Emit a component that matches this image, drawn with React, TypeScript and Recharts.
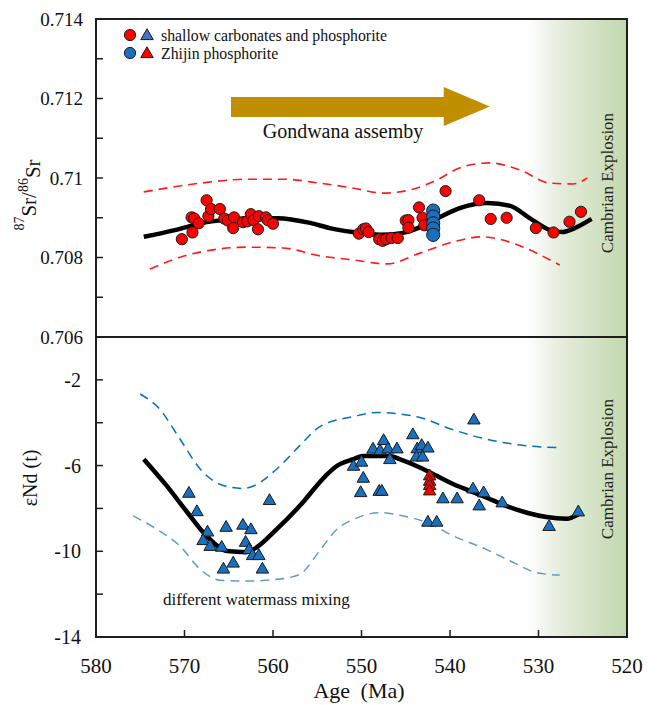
import React from 'react'
import { ComposedChart, XAxis, YAxis, Line, Scatter, ReferenceArea, Label } from 'recharts'

interface Pt {
  age: number
  v: number
}

const FONT = '"Liberation Serif", "Times New Roman", serif'
const AXIS = '#1e1e1e'

const AGE_TICKS = [580, 570, 560, 550, 540, 530, 520]
const SR_TICKS = [0.706, 0.707, 0.708, 0.709, 0.71, 0.711, 0.712, 0.713, 0.714]
const SR_LABELS = [0.706, 0.708, 0.71, 0.712, 0.714]
const ND_TICKS = [-14, -12, -10, -8, -6, -4, -2]
const ND_LABELS = [-14, -10, -6, -2]

const pts = (rows: number[][]): Pt[] => rows.map(([age, v]) => ({ age, v }))

// 87Sr/86Sr, shallow carbonates and phosphorite (red circles)
const srShallow = pts([
  [570.3, 0.70846], [569.1, 0.70863], [569.2, 0.70901], [568.9, 0.70898], [568.4, 0.70886],
  [567.5, 0.70944], [567.3, 0.70904], [567.0, 0.70922], [566.0, 0.70922], [565.5, 0.70898],
  [565.1, 0.70893], [564.4, 0.70901], [564.5, 0.70874], [563.4, 0.70889], [562.9, 0.70891],
  [562.5, 0.70909], [562.2, 0.70894], [561.6, 0.70904], [561.7, 0.70871], [560.8, 0.70901],
  [560.6, 0.70894], [560.0, 0.70885],
  [550.3, 0.7086], [549.8, 0.70871], [549.5, 0.70873], [549.2, 0.70864], [548.0, 0.70846],
  [547.6, 0.70842], [547.2, 0.70846], [546.6, 0.70849], [545.9, 0.70849], [545.0, 0.70893],
  [544.7, 0.70894], [544.7, 0.70875], [543.5, 0.70926], [543.1, 0.709], [542.9, 0.70881],
  [541.9, 0.70913], [540.5, 0.70967], [536.7, 0.70944], [535.4, 0.70897], [533.6, 0.709],
  [530.3, 0.70874], [528.3, 0.70863], [526.5, 0.7089], [525.2, 0.70915],
])

// 87Sr/86Sr, Zhijin phosphorite (blue circles)
const srZhijin = pts([
  [541.9, 0.70918], [541.9, 0.70903], [541.9, 0.70886], [541.9, 0.70873], [541.9, 0.70857],
])

const srTrend = pts([
  [574.6, 0.70852], [571.1, 0.70869], [567.5, 0.70889], [563.7, 0.70897], [559.5, 0.70899],
  [555.8, 0.70887], [553.6, 0.70874], [551.0, 0.70864], [547.9, 0.70857], [545.3, 0.70862],
  [542.8, 0.70882], [541.1, 0.70902], [538.9, 0.70924], [535.8, 0.70937], [533.2, 0.7093],
  [531.0, 0.70899], [528.7, 0.70869], [527.3, 0.70864], [525.9, 0.70874], [524.0, 0.70897],
])

const srUpper = pts([
  [574.6, 0.70965], [568.2, 0.70987], [562.9, 0.70997], [558.9, 0.70997], [554.7, 0.70987],
  [551.0, 0.70975], [547.6, 0.70962], [544.5, 0.7097], [541.5, 0.70995], [538.6, 0.71028],
  [535.5, 0.71038], [532.1, 0.7102], [528.7, 0.70987], [526.1, 0.70985], [524.5, 0.71],
])

const srLower = pts([
  [573.9, 0.70771], [569.7, 0.70806], [562.9, 0.70826], [558.9, 0.70824], [554.7, 0.70804],
  [551.0, 0.70794], [547.1, 0.70784], [543.4, 0.70811], [539.7, 0.70839], [536.3, 0.70852],
  [532.9, 0.70836], [528.7, 0.70794], [527.6, 0.70781],
])

// eNd(t), shallow carbonates and phosphorite (blue triangles)
const ndShallow = pts([
  [569.5, -7.31], [568.6, -8.17], [567.4, -9.12], [567.9, -9.52], [567.1, -9.79],
  [565.8, -9.83], [565.3, -8.9], [563.4, -8.8], [562.5, -9.01], [563.1, -9.6],
  [562.7, -9.94], [562.3, -10.22], [561.6, -10.22], [564.5, -10.57], [565.6, -10.85],
  [561.2, -10.85], [560.4, -7.65],
  [550.9, -6.05], [550.0, -5.86], [549.8, -6.61], [550.1, -7.28], [548.7, -5.25],
  [547.9, -5.32], [547.5, -4.85], [547.0, -5.24], [546.0, -5.24], [546.8, -5.74],
  [548.0, -7.22], [547.7, -7.22], [544.2, -4.58], [543.7, -5.24], [543.2, -5.08],
  [542.5, -5.2], [543.8, -5.62], [543.1, -5.62], [540.8, -7.57], [539.2, -7.57],
  [542.5, -8.66], [541.5, -8.66], [537.3, -3.89], [537.4, -7.11], [536.2, -7.29],
  [536.7, -7.9], [534.1, -7.76], [528.8, -8.86], [525.5, -8.18],
])

// eNd(t), Zhijin phosphorite (red triangles)
const ndZhijin = pts([
  [542.3, -6.5], [542.3, -6.75], [542.3, -6.95], [542.3, -7.2],
])

const ndTrend = pts([
  [574.6, -5.7], [572.0, -6.95], [569.8, -8.12], [567.5, -9.29], [565.2, -9.99],
  [563.0, -10.04], [562.2, -9.91], [559.6, -8.98], [557.0, -7.89], [554.1, -6.5],
  [552.8, -6.02], [550.9, -5.7], [549.8, -5.55], [546.8, -5.55], [545.7, -5.7],
  [543.4, -6.09], [541.5, -6.48], [539.6, -6.87], [537.7, -7.19], [535.9, -7.49],
  [533.6, -7.89], [531.3, -8.2], [529.1, -8.4], [526.8, -8.48], [525.5, -8.27],
])

const ndUpper = pts([
  [575.0, -2.66], [572.8, -3.37], [570.5, -4.77], [568.2, -6.17], [566.0, -6.87],
  [563.4, -7.07], [562.2, -6.95], [559.6, -6.17], [557.0, -5.08], [554.7, -4.18],
  [550.9, -3.71], [548.3, -3.52], [545.6, -3.6], [543.0, -3.8], [540.4, -4.22],
  [537.4, -4.61], [534.0, -4.92], [531.3, -5.08], [527.9, -5.16],
])

const ndLower = pts([
  [575.8, -8.35], [573.1, -8.98], [570.5, -9.76], [568.2, -10.85], [566.0, -11.35],
  [563.0, -11.39], [559.6, -11.31], [557.0, -11.08], [554.7, -9.96], [552.8, -8.98],
  [550.9, -8.51], [547.9, -8.2], [545.3, -8.35], [542.6, -8.66], [539.6, -9.29],
  [535.9, -9.91], [532.8, -10.53], [530.2, -11.0], [527.6, -11.11],
])

const RED = '#ff0000'
const BLUE = '#1a6fbe'

const circleShape = (fill: string, r: number) => (p: any) => (
  <circle cx={p.cx} cy={p.cy} r={r} fill={fill} stroke="#1a1a1a" strokeWidth={1} />
)

const triangleShape = (fill: string) => (p: any) => {
  const s = 12.5
  const h = s * 0.866
  const { cx, cy } = p
  return (
    <polygon
      points={`${cx},${cy - (2 * h) / 3} ${cx - s / 2},${cy + h / 3} ${cx + s / 2},${cy + h / 3}`}
      fill={fill}
      stroke="#1a1a1a"
      strokeWidth={1}
    />
  )
}

const isIn = (list: number[], v: number) => list.some((l) => Math.abs(l - v) < 1e-9)

const SrTick = (props: any) => {
  const { x, y, payload } = props
  const v = payload.value
  return (
    <g>
      <line x1={x} x2={x + 7} y1={y} y2={y} stroke={AXIS} strokeWidth={1.5} />
      {isIn(SR_LABELS, v) && (
        <text x={x - 13} y={y} dy="0.35em" textAnchor="end" fontSize={19} fontFamily={FONT} fill="#111">
          {String(Number(v.toFixed(3)))}
        </text>
      )}
    </g>
  )
}

const NdTick = (props: any) => {
  const { x, y, payload } = props
  const v = payload.value
  return (
    <g>
      <line x1={x} x2={x + 7} y1={y} y2={y} stroke={AXIS} strokeWidth={1.5} />
      {isIn(ND_LABELS, v) && (
        <text x={x - 15} y={y} dy="0.35em" textAnchor="end" fontSize={20} fontFamily={FONT} fill="#111">
          {v}
        </text>
      )}
    </g>
  )
}

const AgeTick = (props: any) => {
  const { x, y, payload } = props
  return (
    <g>
      <line x1={x} x2={x} y1={y} y2={y - 7} stroke={AXIS} strokeWidth={1.5} />
      <text x={x} y={y + 29} dy="0.35em" textAnchor="middle" fontSize={21} fontFamily={FONT} fill="#111">
        {payload.value}
      </text>
    </g>
  )
}

// green band for the Cambrian explosion, with its vertical caption
const cambrianShape = (id: string, dy: number) => (p: any) => {
  const { x, y, width, height } = p
  const cx = x + width - 20
  const cy = y + height / 2 + dy
  return (
    <g>
      <defs>
        <linearGradient id={id} x1="0" y1="0" x2="1" y2="0">
          <stop offset="0%" stopColor="#ffffff" />
          <stop offset="35%" stopColor="#e4ecdb" />
          <stop offset="100%" stopColor="#c2d8ae" />
        </linearGradient>
      </defs>
      <rect x={x} y={y} width={width} height={height} fill={`url(#${id})`} />
      <text
        x={cx}
        y={cy}
        dy="0.35em"
        textAnchor="middle"
        fontSize={17}
        fontFamily={FONT}
        fill="#222"
        transform={`rotate(-90, ${cx}, ${cy})`}
      >
        Cambrian Explosion
      </text>
    </g>
  )
}

const arrowShape = (p: any) => {
  const { x, y, width, height } = p
  const hs = x + width * 0.822
  const bt = y + height * 0.256
  const bb = y + height * 0.77
  return (
    <g>
      <polygon
        points={`${x},${bt} ${hs},${bt} ${hs},${y} ${x + width},${y + height / 2} ${hs},${y + height} ${hs},${bb} ${x},${bb}`}
        fill="#bf8f00"
      />
      <text x={x + 112} y={y + height + 12} textAnchor="middle" fontSize={20} fontFamily={FONT} fill="#111">
        Gondwana assemby
      </text>
    </g>
  )
}

const tri = (cx: number, cy: number, fill: string) => {
  const s = 12.5
  const h = s * 0.866
  return (
    <polygon
      points={`${cx},${cy - (2 * h) / 3} ${cx - s / 2},${cy + h / 3} ${cx + s / 2},${cy + h / 3}`}
      fill={fill}
      stroke="#1a1a1a"
      strokeWidth={1}
    />
  )
}

// frame of the upper panel plus the legend in its top-left corner
const topFrame = (p: any) => {
  const { x, y, width, height } = p
  const lx = x + 34
  const ly1 = y + 16
  const ly2 = y + 34
  return (
    <g>
      <rect x={x} y={y} width={width} height={height} fill="none" stroke={AXIS} strokeWidth={2} />
      <circle cx={lx} cy={ly1} r={5.6} fill={RED} stroke="#1a1a1a" />
      {tri(lx + 17, ly1 + 1, '#4472c4')}
      <text x={lx + 31} y={ly1} dy="0.35em" fontSize={15.8} fontFamily={FONT} fill="#111">
        shallow carbonates and phosphorite
      </text>
      <circle cx={lx} cy={ly2} r={5.6} fill={BLUE} stroke="#1a1a1a" />
      {tri(lx + 17, ly2 + 1, RED)}
      <text x={lx + 31} y={ly2} dy="0.35em" fontSize={15.8} fontFamily={FONT} fill="#111">
        Zhijin phosphorite
      </text>
    </g>
  )
}

const bottomFrame = (p: any) => {
  const { x, y, width, height } = p
  return (
    <g>
      <rect x={x} y={y} width={width} height={height} fill="none" stroke={AXIS} strokeWidth={2} />
      <text x={x + 67} y={y + 268} fontSize={17} fontFamily={FONT} fill="#111">
        different watermass mixing
      </text>
    </g>
  )
}

const srLabel = () => (
  <text
    x={30}
    y={195}
    textAnchor="middle"
    dy="0.35em"
    fontSize={21}
    fontFamily={FONT}
    fill="#111"
    transform="rotate(-90, 30, 195)"
  >
    <tspan fontSize={14} dy="-0.4em">87</tspan>
    <tspan dy="0.55em">Sr/</tspan>
    <tspan fontSize={14} dy="-0.55em">86</tspan>
    <tspan dy="0.55em">Sr</tspan>
  </text>
)

const ndLabel = () => (
  <text
    x={30}
    y={148}
    textAnchor="middle"
    dy="0.35em"
    fontSize={20}
    fontFamily={FONT}
    fill="#111"
    transform="rotate(-90, 30, 148)"
  >
    εNd (t)
  </text>
)

const ageLabel = () => (
  <text x={359} y={360} textAnchor="middle" dy="0.35em" fontSize={22} fontFamily={FONT} fill="#111">
    <tspan>Age</tspan>
    <tspan dx={5}> (Ma)</tspan>
  </text>
)

export default function App() {
  return (
    <div style={{ position: 'absolute', left: 0, top: 0, width: 657, height: 705, background: '#fff' }}>
      <div style={{ position: 'absolute', left: 0, top: 0 }}>
        <ComposedChart width={657} height={350} margin={{ top: 19, right: 30, bottom: 13, left: 0 }}>
          <XAxis
            dataKey="age"
            type="number"
            domain={[520, 580]}
            reversed
            allowDataOverflow
            hide
          />
          <YAxis
            dataKey="v"
            type="number"
            domain={[0.706, 0.714]}
            ticks={SR_TICKS}
            allowDataOverflow
            width={96}
            tick={<SrTick />}
            tickLine={false}
            tickSize={0}
            tickMargin={0}
            axisLine={{ stroke: AXIS, strokeWidth: 2 }}
            interval={0}
          >
            <Label content={srLabel} />
          </YAxis>
          <ReferenceArea x1={531.3} x2={520} y1={0.706} y2={0.714} shape={cambrianShape('gradTop', 5)} />
          <ReferenceArea x1={564.75} x2={535.5} y1={0.71131} y2={0.71229} shape={arrowShape} />
          <ReferenceArea x1={580} x2={520} y1={0.706} y2={0.714} shape={topFrame} />
          <Line data={srUpper} dataKey="v" type="monotone" stroke="#ff1a1a" strokeWidth={1.6} strokeDasharray="9 6" dot={false} isAnimationActive={false} />
          <Line data={srLower} dataKey="v" type="monotone" stroke="#ff1a1a" strokeWidth={1.6} strokeDasharray="9 6" dot={false} isAnimationActive={false} />
          <Line data={srTrend} dataKey="v" type="monotone" stroke="#000" strokeWidth={4.5} dot={false} isAnimationActive={false} />
          <Scatter data={srShallow} dataKey="v" shape={circleShape(RED, 5.6)} isAnimationActive={false} />
          <Scatter data={srZhijin} dataKey="v" shape={circleShape(BLUE, 6.6)} isAnimationActive={false} />
        </ComposedChart>
      </div>
      <div style={{ position: 'absolute', left: 0, top: 330 }}>
        <ComposedChart width={657} height={375} margin={{ top: 7, right: 30, bottom: 0, left: 0 }}>
          <XAxis
            dataKey="age"
            type="number"
            domain={[520, 580]}
            reversed
            allowDataOverflow
            ticks={AGE_TICKS}
            interval={0}
            height={68}
            tick={<AgeTick />}
            tickLine={false}
            tickSize={0}
            tickMargin={0}
            axisLine={{ stroke: AXIS, strokeWidth: 2 }}
          >
            <Label content={ageLabel} />
          </XAxis>
          <YAxis
            dataKey="v"
            type="number"
            domain={[-14, 0]}
            ticks={ND_TICKS}
            allowDataOverflow
            width={96}
            tick={<NdTick />}
            tickLine={false}
            tickSize={0}
            tickMargin={0}
            interval={0}
            axisLine={{ stroke: AXIS, strokeWidth: 2 }}
          >
            <Label content={ndLabel} />
          </YAxis>
          <ReferenceArea x1={531.3} x2={520} y1={-14} y2={0} shape={cambrianShape('gradBottom', -18)} />
          <ReferenceArea x1={580} x2={520} y1={-14} y2={0} shape={bottomFrame} />
          <Line data={ndUpper} dataKey="v" type="monotone" stroke="#0070c0" strokeWidth={1.5} strokeDasharray="9 6" dot={false} isAnimationActive={false} />
          <Line data={ndLower} dataKey="v" type="monotone" stroke="#5b9bd5" strokeWidth={1.5} strokeDasharray="9 6" dot={false} isAnimationActive={false} />
          <Line data={ndTrend} dataKey="v" type="monotone" stroke="#000" strokeWidth={4.5} dot={false} isAnimationActive={false} />
          <Scatter data={ndShallow} dataKey="v" shape={triangleShape(BLUE)} isAnimationActive={false} />
          <Scatter data={ndZhijin} dataKey="v" shape={triangleShape(RED)} isAnimationActive={false} />
        </ComposedChart>
      </div>
    </div>
  )
}
